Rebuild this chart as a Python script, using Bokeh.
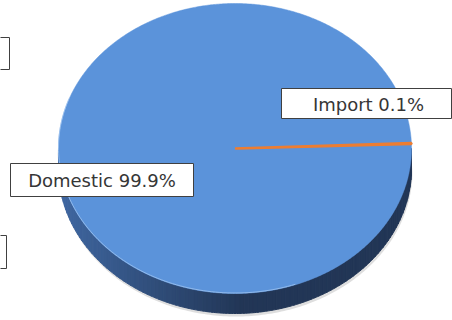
import numpy as np
from bokeh.plotting import figure
from bokeh.models import Range1d, ColumnDataSource
from bokeh.embed import file_html
from bokeh.resources import INLINE
from bokeh.core.properties import value

# ---- data ----
categories = ["Domestic", "Import"]
shares = [99.9, 0.1]
slice_colors = ["#5B93DA", "#ED7D31"]
label_texts = [f"{c} {v}%" for c, v in zip(categories, shares)]

# ---- layout ----
W, H = 452, 320
cx, cy, rx, ry, depth = 234.5, 148.0, 176.5, 145.0, 20.0
start_deg = 2.16  # where the first slice (Domestic) begins, counter-clockwise

p = figure(width=W, height=H, x_range=Range1d(0, W), y_range=Range1d(H, 0),
           output_backend="svg", toolbar_location=None, min_border=0)
p.axis.visible = False
p.grid.visible = False
p.outline_line_color = None
p.background_fill_color = "white"
p.border_fill_color = "white"


def ex(t):
    return cx + rx * np.cos(t)


def ey(t, off=0.0):
    return cy - ry * np.sin(t) + off


# soft shadow under the side
t = np.linspace(np.pi, 2 * np.pi, 200)
sx = np.concatenate([ex(t) - 1, ex(t[::-1]) + 1])
sy = np.concatenate([ey(t), ey(t[::-1], depth + 3)])
p.patch(sx, sy, fill_color="#c8c8c8", fill_alpha=0.6, line_color=None)

# 3D side (front half) with horizontal shading
n = 120
edges = np.linspace(np.pi, 2 * np.pi, n + 1)
light = np.array([64, 104, 162])
dark = np.array([34, 54, 86])
xs, ys, cols = [], [], []
for a, b in zip(edges[:-1], edges[1:]):
    tt = np.linspace(a, b, 4)
    xs.append(list(np.concatenate([ex(tt), ex(tt[::-1])])))
    ys.append(list(np.concatenate([ey(tt), ey(tt[::-1], depth)])))
    xm = ex((a + b) / 2)
    f = np.clip((xm - (cx - rx)) / (rx * 1.05), 0, 1)
    c = (light + (dark - light) * f).astype(int)
    cols.append("#%02x%02x%02x" % tuple(c))
p.patches(xs, ys, fill_color=cols, line_color=cols, line_width=1)

# top slices
total = sum(shares)
ang = start_deg
pxs, pys = [], []
for s in shares:
    span = s / total * 360.0
    tt = np.radians(np.linspace(ang, ang + span, max(3, int(span * 2))))
    pxs.append([cx] + list(ex(tt)))
    pys.append([cy] + list(ey(tt)))
    ang += span
p.patches(pxs, pys, fill_color=slice_colors, line_color=slice_colors,
          line_width=[0.5, 2.5])

# light rim on lower-left edge of the top
tr = np.linspace(np.radians(160), np.radians(290), 100)
p.line(ex(tr), ey(tr) - 0.5, line_color="#9dc3f0", line_width=1, line_alpha=0.8)

# partially visible boxes on the left edge
p.quad(left=[-20, -20], right=[9, 6], top=[37, 235], bottom=[69, 268],
       fill_color="white", line_color="#404040", line_width=1)

# data label boxes
lab = ColumnDataSource(dict(
    left=[10, 281], right=[193, 451], top=[163, 88], bottom=[196, 118],
    x=[101.5, 368], y=[180, 103.5], text=label_texts))
p.quad(left="left", right="right", top="top", bottom="bottom", source=lab,
       fill_color="white", line_color="#404040", line_width=1)
p.text(x="x", y="y", text="text", source=lab, text_align="center",
       text_baseline="middle", text_font=value("DejaVu Sans"),
       text_font_size="18px", text_color="#363636")

open("out.html", "w").write(file_html(p, INLINE))
